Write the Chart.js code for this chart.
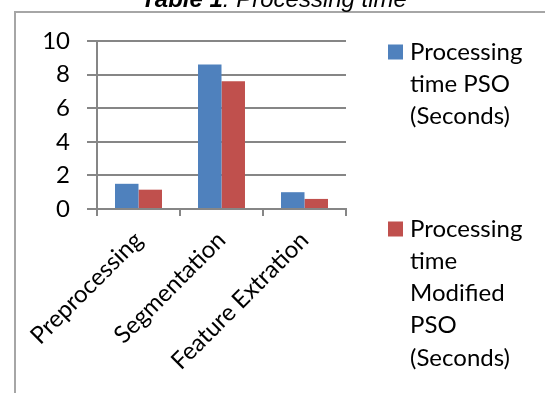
<!DOCTYPE html>
<html>
<head>
<meta charset="utf-8">
<style>
  html, body { margin: 0; padding: 0; background: #ffffff; }
  #wrap { position: relative; width: 545px; height: 393px; }
</style>
<script src="https://cdn.jsdelivr.net/npm/chart.js@4/dist/chart.umd.min.js"></script>
</head>
<body>
<div id="wrap"><canvas id="chart" width="545" height="393"></canvas></div>
<script>
// Processing time per stage, in seconds
const stages = ["Preprocessing", "Segmentation", "Feature Extration"];
const psoTimes = [1.5, 8.6, 1.0];
const modifiedPsoTimes = [1.15, 7.6, 0.6];
const seriesNames = ["Processing time PSO (Seconds)", "Processing time Modified PSO (Seconds)"];
const legendLines = [
  ["Processing", "time PSO", "(Seconds)"],
  ["Processing", "time", "Modified", "PSO", "(Seconds)"]
];
const yTicks = [0, 2, 4, 6, 8, 10];

const FONT = 'Lato, "Open Sans", sans-serif';
const FONT_SIZE = 24;
const AXIS_GREY = '#868686';

// Frame, caption and legend painted around the plot area
const decorations = {
  id: 'decorations',
  afterDraw(chart) {
    const ctx = chart.ctx;
    ctx.save();
    // outer frame
    ctx.strokeStyle = '#a6a6a6';
    ctx.lineWidth = 2;
    ctx.beginPath();
    ctx.moveTo(15, 400);
    ctx.lineTo(15, 12);
    ctx.lineTo(560, 12);
    ctx.stroke();

    // caption
    ctx.fillStyle = '#000000';
    ctx.textBaseline = 'alphabetic';
    ctx.textAlign = 'left';
    const boldPart = 'Table 1';
    const restPart = ': Processing time';
    const capFont = '24px "Liberation Sans", Arial, sans-serif';
    ctx.font = 'italic bold ' + capFont;
    const w1 = ctx.measureText(boldPart).width;
    ctx.font = 'italic ' + capFont;
    const w2 = ctx.measureText(restPart).width;
    const startX = 274 - (w1 + w2) / 2;
    ctx.font = 'italic bold ' + capFont;
    ctx.fillText(boldPart, startX, 7);
    ctx.font = 'italic ' + capFont;
    ctx.fillText(restPart, startX + w1, 7);

    // legend
    const itemTops = [52, 229];
    const lineGap = 32.2;
    ctx.font = FONT_SIZE + 'px ' + FONT;
    ctx.textBaseline = 'middle';
    chart.data.datasets.forEach((ds, i) => {
      const cy = itemTops[i];
      ctx.fillStyle = ds.backgroundColor;
      ctx.fillRect(388, cy - 7.5, 15, 15);
      ctx.fillStyle = '#000000';
      legendLines[i].forEach((line, j) => {
        ctx.fillText(line, 410, cy + j * lineGap);
      });
    });
    ctx.restore();
  }
};

new Chart(document.getElementById('chart'), {
  type: 'bar',
  data: {
    labels: stages,
    datasets: [
      {
        label: seriesNames[0],
        data: psoTimes,
        backgroundColor: '#4F81BD',
        borderWidth: 0,
        categoryPercentage: 0.566,
        barPercentage: 1.0
      },
      {
        label: seriesNames[1],
        data: modifiedPsoTimes,
        backgroundColor: '#C0504D',
        borderWidth: 0,
        categoryPercentage: 0.566,
        barPercentage: 1.0
      }
    ]
  },
  options: {
    responsive: false,
    animation: false,
    devicePixelRatio: 1,
    layout: { padding: { top: 41, right: 199, left: 0, bottom: 0 } },
    plugins: {
      legend: { display: false },
      tooltip: { enabled: false },
      title: { display: false }
    },
    scales: {
      x: {
        offset: true,
        grid: {
          display: true,
          drawOnChartArea: false,
          drawTicks: true,
          tickLength: 7,
          color: AXIS_GREY,
          lineWidth: 2,
          offset: true
        },
        border: { display: true, color: AXIS_GREY, width: 2 },
        ticks: {
          minRotation: 45,
          maxRotation: 45,
          autoSkip: false,
          padding: 10,
          color: '#000000',
          font: { family: FONT, size: FONT_SIZE }
        },
        afterFit(scale) { scale.height = 184; }
      },
      y: {
        min: 0,
        max: 10,
        afterBuildTicks(scale) {
          scale.ticks = yTicks.map(v => ({ value: v }));
        },
        grid: {
          color: AXIS_GREY,
          lineWidth: 2,
          drawTicks: true,
          tickLength: 10
        },
        border: { display: true, color: AXIS_GREY, width: 2 },
        ticks: {
          padding: 17,
          color: '#000000',
          font: { family: FONT, size: FONT_SIZE }
        },
        afterFit(scale) { scale.width = 97; }
      }
    }
  },
  plugins: [decorations]
});
</script>
</body>
</html>
